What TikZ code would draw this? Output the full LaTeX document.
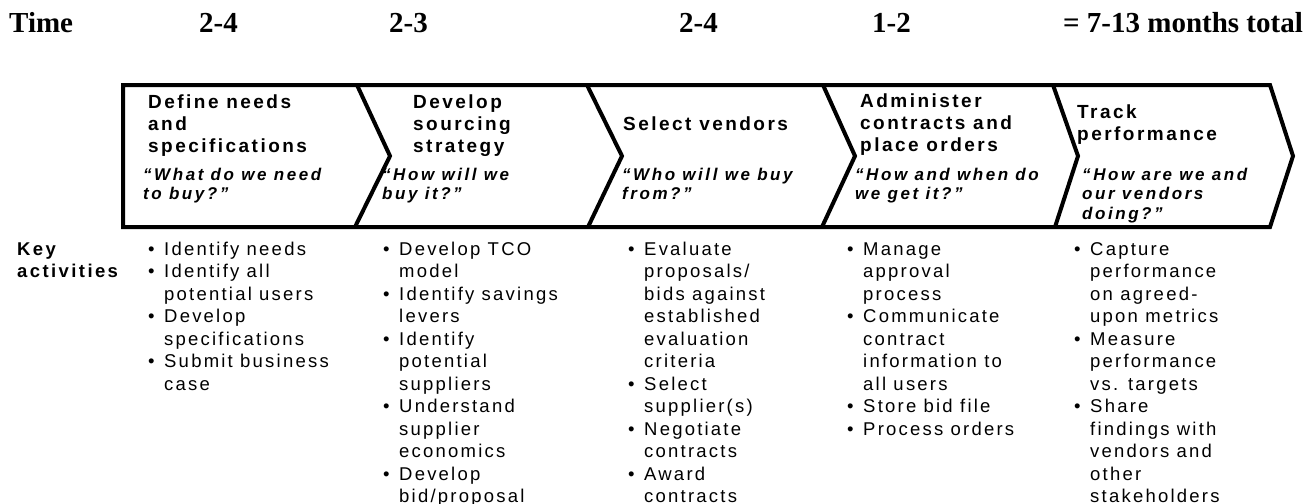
\documentclass[tikz,border=0pt]{standalone}
\usepackage{fontspec}
\setmainfont{Liberation Sans}
\newfontfamily\bodyf[LetterSpace=12]{Liberation Sans}
\newfontfamily\headf[LetterSpace=13]{Liberation Sans}
\newfontfamily\quotef[LetterSpace=15]{Liberation Sans}
\newfontfamily\timesf{Liberation Serif}
\newcommand\mybul{\makebox[16pt][l]{\textbullet}}
\newcommand\myind{\hspace*{16pt}}
\tikzset{
  timelbl/.style={anchor=base west, inner sep=0pt, font=\timesf\bfseries\fontsize{29}{32}\selectfont},
  headlbl/.style={anchor=base west, inner sep=0pt, align=left, font=\headf\bfseries\fontsize{19}{22}\selectfont},
  quotelbl/.style={anchor=base west, inner sep=0pt, align=left, font=\quotef\bfseries\itshape\fontsize{17}{19.5}\selectfont},
  bullbl/.style={anchor=base west, inner sep=0pt, align=left, font=\bodyf\fontsize{18.5}{22.5}\selectfont},
  chev/.style={line width=4pt, line join=miter, miter limit=10}
}
\begin{document}
\begin{tikzpicture}[x=1pt,y=-1pt]
\useasboundingbox (0,0) rectangle (1316,503);
% time row
\node[timelbl] (tm) at (9,33) {Time};
\node[timelbl] (t1) at (199,33) {2-4};
\node[timelbl] (t2) at (389,33) {2-3};
\node[timelbl] (t3) at (679,33) {2-4};
\node[timelbl] (t4) at (872,33) {1-2};
\node[timelbl] (tt) at (1063,33) {= 7-13 months total};
% chevron band
\draw[chev] (123,85) -- (1270,85) -- (1293,156) -- (1270,227) -- (123,227) -- cycle;
\draw[chev] (357,85) -- (390,156) -- (355,227);
\draw[chev] (587,85) -- (622,156) -- (588,227);
\draw[chev] (823,85) -- (855,156) -- (822,227);
\draw[chev] (1053,85) -- (1078,156) -- (1055,227);
% headers (base anchor = last line)
\node[headlbl] (h1) at (148,152) {Define needs\\and\\specifications};
\node[headlbl] (h2) at (413,152) {Develop\\sourcing\\strategy};
\node[headlbl] (h3) at (623,130) {Select vendors};
\node[headlbl] (h4) at (860,151) {Administer\\contracts and\\place orders};
\node[headlbl] (h5) at (1077,140) {Track\\performance};
% questions
\node[quotelbl] (q1) at (143,199.5) {“What do we need\\to buy?”};
\node[quotelbl] (q2) at (382,199.5) {“How will we\\buy it?”};
\node[quotelbl] (q3) at (622,199.5) {“Who will we buy\\from?”};
\node[quotelbl] (q4) at (855,199.5) {“How and when do\\we get it?”};
\node[quotelbl] (q5) at (1082,219) {“How are we and\\our vendors\\doing?”};
% key activities
\node[headlbl, font=\headf\bfseries\fontsize{18.5}{22.5}\selectfont] (ka) at (17,277.5) {Key\\activities};
\node[bullbl] (b1) at (148,390) {\mybul Identify needs\\\mybul Identify all\\\myind potential users\\\mybul Develop\\\myind specifications\\\mybul Submit business\\\myind case};
\node[bullbl] (b2) at (383,502.5) {\mybul Develop TCO\\\myind model\\\mybul Identify savings\\\myind levers\\\mybul Identify\\\myind potential\\\myind suppliers\\\mybul Understand\\\myind supplier\\\myind economics\\\mybul Develop\\\myind bid/proposal};
\node[bullbl] (b3) at (628,502.5) {\mybul Evaluate\\\myind proposals/\\\myind bids against\\\myind established\\\myind evaluation\\\myind criteria\\\mybul Select\\\myind supplier(s)\\\mybul Negotiate\\\myind contracts\\\mybul Award\\\myind contracts};
\node[bullbl] (b4) at (847,435) {\mybul Manage\\\myind approval\\\myind process\\\mybul Communicate\\\myind contract\\\myind information to\\\myind all users\\\mybul Store bid file\\\mybul Process orders};
\node[bullbl] (b5) at (1074,502.5) {\mybul Capture\\\myind performance\\\myind on agreed-\\\myind upon metrics\\\mybul Measure\\\myind performance\\\myind vs. targets\\\mybul Share\\\myind findings with\\\myind vendors and\\\myind other\\\myind stakeholders};
\end{tikzpicture}
\end{document}
